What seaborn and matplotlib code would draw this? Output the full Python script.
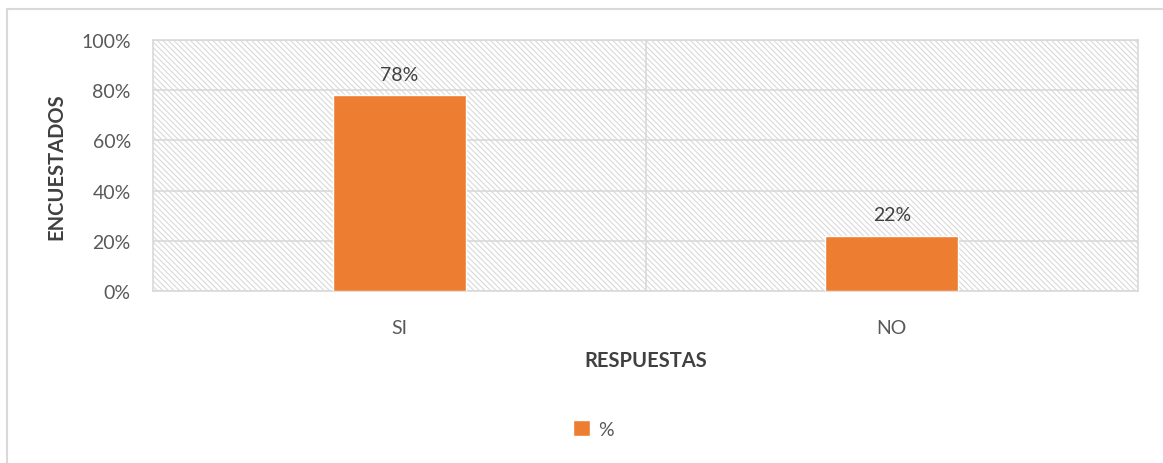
import matplotlib
matplotlib.use("Agg")
import matplotlib.pyplot as plt
import seaborn as sns
import pandas as pd
from matplotlib.patches import Rectangle
from matplotlib.lines import Line2D
from matplotlib.ticker import FuncFormatter

categories = ["SI", "NO"]
values = [78, 22]
series_name = "%"
y_ticks = [0, 20, 40, 60, 80, 100]

sns.set_theme(style="white")
plt.rcParams['font.family'] = ['Lato', 'DejaVu Sans']
plt.rcParams['hatch.color'] = '#d9d9d9'
plt.rcParams['hatch.linewidth'] = 0.8

df = pd.DataFrame({"RESPUESTAS": categories, "val": values, "serie": series_name})

fig = plt.figure(figsize=(11.63, 4.64), dpi=100)
ax = fig.add_axes([153/1163, 1-292/464, (1138-153)/1163, (292-41)/464])

# outer chart frame (only top & left visible)
fig.add_artist(Line2D([7/1163, 7/1163], [0, 1-10/464], transform=fig.transFigure, color='#d9d9d9', lw=1.5))
fig.add_artist(Line2D([7/1163, 1], [1-10/464, 1-10/464], transform=fig.transFigure, color='#d9d9d9', lw=1.5))

# hatched plot area
ax.add_patch(Rectangle((0, 0), 1, 1, transform=ax.transAxes, facecolor='white',
                       edgecolor='#d9d9d9', hatch='\\\\\\\\\\\\', lw=0, zorder=0))

sns.barplot(data=df, x="RESPUESTAS", y="val", hue="serie", palette=['#ED7D31'],
            saturation=1, width=0.27, ax=ax, zorder=3, legend=True)

ax.set_ylim(0, 100)
ax.set_xlim(-0.5, 1.5)
ax.set_yticks(y_ticks)
ax.yaxis.set_major_formatter(FuncFormatter(lambda v, p: f"{int(v)}%"))
for y in y_ticks:
    ax.axhline(y, color='#d9d9d9', lw=1.2, zorder=1)
ax.axvline(0.5, color='#d9d9d9', lw=1.2, zorder=1)
for s in ax.spines.values():
    s.set_color('#d9d9d9')
    s.set_linewidth(1.2)
ax.tick_params(axis='both', length=0, labelsize=14, labelcolor='#595959')
ax.tick_params(axis='y', pad=16)
ax.tick_params(axis='x', pad=20)

for c in ax.containers:
    ax.bar_label(c, labels=[f"{v}%" for v in values], padding=9, fontsize=14, color='#404040')

ax.set_ylabel("ENCUESTADOS", fontsize=14.5, fontweight='bold', color='#404040', labelpad=11)
ax.set_xlabel("RESPUESTAS", fontsize=14.5, fontweight='bold', color='#404040', labelpad=10)

leg = ax.legend(loc='center', bbox_to_anchor=((593-153)/985, -0.55), frameon=False, fontsize=14,
                handlelength=0.9, handleheight=0.9, handletextpad=0.4)
for t in leg.get_texts():
    t.set_color('#595959')

fig.savefig("out.png", dpi=100, facecolor='white')
